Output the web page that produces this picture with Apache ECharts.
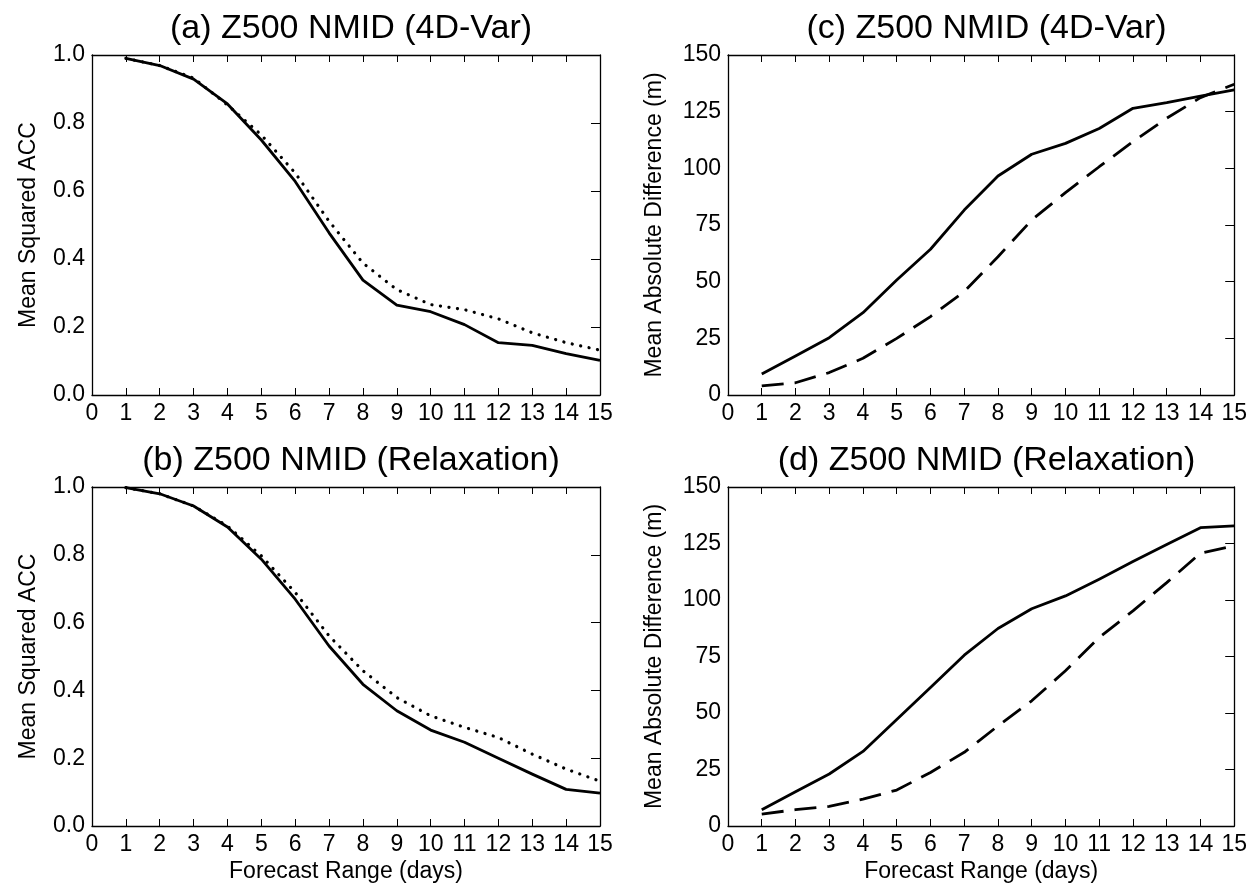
<!DOCTYPE html>
<html>
<head>
<meta charset="utf-8">
<script src="https://cdn.jsdelivr.net/npm/echarts@6/dist/echarts.min.js"></script>
<style>
html,body{margin:0;padding:0;background:#fff;}
#chart{width:1250px;height:888px;}
</style>
</head>
<body>
<div id="chart"></div>
<script>
// ---- data ----
const days = [1,2,3,4,5,6,7,8,9,10,11,12,13,14,15];
const xTicks = [0,1,2,3,4,5,6,7,8,9,10,11,12,13,14,15];
const accTicks = [0.0,0.2,0.4,0.6,0.8,1.0];
const madTicks = [0,25,50,75,100,125,150];

const titles = ['(a) Z500 NMID (4D-Var)','(c) Z500 NMID (4D-Var)','(b) Z500 NMID (Relaxation)','(d) Z500 NMID (Relaxation)'];
const yNames = ['Mean Squared ACC','Mean Absolute Difference (m)','Mean Squared ACC','Mean Absolute Difference (m)'];
const xName = 'Forecast Range (days)';

// (a) 4D-Var ACC
const acc4dSolid  = [0.990,0.969,0.929,0.856,0.750,0.628,0.477,0.338,0.264,0.245,0.207,0.154,0.146,0.122,0.102];
const acc4dDotted = [0.990,0.969,0.932,0.853,0.765,0.653,0.511,0.388,0.310,0.266,0.251,0.224,0.183,0.154,0.132];
// (b) Relaxation ACC
const accRxSolid  = [0.998,0.980,0.944,0.882,0.787,0.669,0.531,0.418,0.340,0.283,0.247,0.200,0.153,0.108,0.097];
const accRxDotted = [0.998,0.980,0.944,0.885,0.797,0.689,0.561,0.458,0.379,0.325,0.291,0.261,0.212,0.168,0.132];
// (c) 4D-Var mean absolute difference
const mad4dSolid  = [9.3,17.2,25.3,36.3,50.7,64.3,81.6,96.6,106.2,111.0,117.6,126.5,129.0,131.9,134.6];
const mad4dDashed = [4.0,5.4,9.9,16.2,25.0,34.6,45.6,61.0,77.2,89.3,100.7,111.8,122.1,131.2,137.1];
// (d) Relaxation mean absolute difference
const madRxSolid  = [7.2,15.2,23.0,33.0,47.1,61.3,75.6,87.4,96.1,101.8,109.2,117.0,124.6,132.0,132.8];
const madRxDashed = [5.3,7.2,8.7,11.9,15.9,23.7,32.6,44.3,55.4,68.7,83.4,95.2,107.7,120.7,124.0];

// ---- layout ----
const FONT = 'Liberation Sans';
const grids = [
  {left:92,  top:55,  width:508, height:340},
  {left:728, top:55,  width:507, height:340},
  {left:92,  top:487, width:508, height:339},
  {left:728, top:487, width:507, height:339}
];
const titleTops = [7, 7, 439, 439];
const yGaps = [52, 62, 52, 62];

const pair = (ys) => days.map((d,i)=>[d, ys[i]]);
const black = '#000';

const option = {
  animation:false,
  backgroundColor:'#fff',
  title: titles.map((t,i)=>({
    text:t,
    left: grids[i].left + grids[i].width/2,
    top: titleTops[i],
    textAlign:'center',
    textStyle:{fontFamily:FONT,fontSize:34,fontWeight:'normal',color:black}
  })),
  grid: grids.map(g=>Object.assign({containLabel:false, show:false}, g)),
  xAxis: [],
  yAxis: [],
  series: []
};

for (let i=0;i<4;i++){
  const isAcc = (i===0 || i===2);
  const ticks = isAcc ? accTicks : madTicks;
  const bottomRow = (i>=2);
  option.xAxis.push({
    type:'value', gridIndex:i, position:'bottom',
    min:xTicks[0], max:xTicks[xTicks.length-1], interval:1,
    name: bottomRow ? xName : '',
    nameLocation:'middle', nameGap:34,
    nameTextStyle:{fontFamily:FONT,fontSize:23,color:black},
    axisLine:{show:true,onZero:false,lineStyle:{color:black,width:1.3}},
    axisTick:{show:true,inside:true,length:7,lineStyle:{color:black,width:1}},
    axisLabel:{show:true,margin:7,fontFamily:FONT,fontSize:23,color:black},
    splitLine:{show:false}
  });
  option.xAxis.push({
    type:'value', gridIndex:i, position:'top',
    min:xTicks[0], max:xTicks[xTicks.length-1], interval:1,
    axisLine:{show:true,onZero:false,lineStyle:{color:black,width:1.3}},
    axisTick:{show:true,inside:true,length:7,lineStyle:{color:black,width:1}},
    axisLabel:{show:false},
    splitLine:{show:false}
  });
  option.yAxis.push({
    type:'value', gridIndex:i, position:'left',
    min:ticks[0], max:ticks[ticks.length-1], interval:ticks[1]-ticks[0],
    name:yNames[i], nameLocation:'middle', nameRotate:90, nameGap:yGaps[i],
    nameTextStyle:{fontFamily:FONT,fontSize:23,color:black},
    axisLine:{show:true,onZero:false,lineStyle:{color:black,width:1.3}},
    axisTick:{show:false},
    axisLabel:{show:true,margin:7,fontFamily:FONT,fontSize:23,color:black,
      formatter: v => isAcc ? v.toFixed(1) : String(Math.round(v))},
    splitLine:{show:false}
  });
  option.yAxis.push({
    type:'value', gridIndex:i, position:'right',
    min:ticks[0], max:ticks[ticks.length-1], interval:ticks[1]-ticks[0],
    axisLine:{show:true,onZero:false,lineStyle:{color:black,width:1.3}},
    axisTick:{show:true,inside:true,length:9,lineStyle:{color:black,width:1}},
    axisLabel:{show:false},
    splitLine:{show:false}
  });
}

const solidStyle = {color:black,width:2.8,type:'solid',join:'round',cap:'butt'};
const dottedStyle = {color:black,width:3.2,type:[0.1,8.5],cap:'round'};
const dashedStyle = {color:black,width:2.8,type:[22,11],cap:'butt'};

const seriesDefs = [
  [0, acc4dSolid, solidStyle],
  [0, acc4dDotted, dottedStyle],
  [1, mad4dSolid, solidStyle],
  [1, mad4dDashed, dashedStyle],
  [2, accRxSolid, solidStyle],
  [2, accRxDotted, dottedStyle],
  [3, madRxSolid, solidStyle],
  [3, madRxDashed, dashedStyle]
];
seriesDefs.forEach(([g, ys, ls])=>{
  option.series.push({
    type:'line', xAxisIndex:g*2, yAxisIndex:g*2,
    data:pair(ys), showSymbol:false, symbol:'none', smooth:false,
    lineStyle:ls, silent:true, clip:false
  });
});

const chart = echarts.init(document.getElementById('chart'), null, {renderer:'canvas'});
chart.setOption(option);
</script>
</body>
</html>
